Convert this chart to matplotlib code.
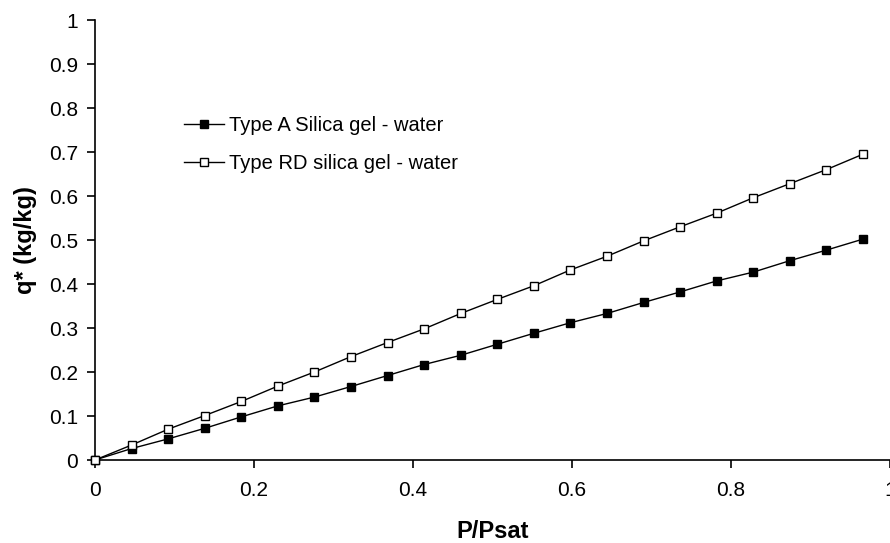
import matplotlib
matplotlib.use("Agg")
import matplotlib.pyplot as plt

plt.rcParams['font.family'] = ['Liberation Sans', 'DejaVu Sans']

# Relative pressure P/Psat
p_ratio = [0.000, 0.046, 0.092, 0.138, 0.184, 0.230, 0.276, 0.322, 0.368, 0.414, 0.460,
           0.506, 0.552, 0.598, 0.644, 0.690, 0.736, 0.782, 0.828, 0.874, 0.920, 0.966]

# Equilibrium uptake q* (kg/kg)
q_type_a = [0.000, 0.026, 0.048, 0.072, 0.098, 0.123, 0.143, 0.167, 0.192, 0.217, 0.238,
            0.263, 0.288, 0.312, 0.333, 0.358, 0.382, 0.407, 0.427, 0.453, 0.477, 0.502]
q_type_rd = [0.000, 0.034, 0.070, 0.101, 0.133, 0.168, 0.200, 0.235, 0.267, 0.298, 0.333,
             0.365, 0.396, 0.432, 0.463, 0.498, 0.530, 0.561, 0.596, 0.628, 0.660, 0.695]

series_labels = ["Type A Silica gel - water", "Type RD silica gel - water"]
x_ticks = [0, 0.2, 0.4, 0.6, 0.8, 1]
y_ticks = [0, 0.1, 0.2, 0.3, 0.4, 0.5, 0.6, 0.7, 0.8, 0.9, 1]

fig = plt.figure(figsize=(8.9, 5.43), dpi=100)
ax = fig.add_axes([95 / 890, 83 / 543, 795 / 890, 440 / 543])

ax.plot(p_ratio, q_type_a, color='black', lw=1.0, marker='s', ms=6,
        mfc='black', mec='black', mew=1.0, label=series_labels[0], clip_on=False, zorder=3)
ax.plot(p_ratio, q_type_rd, color='black', lw=1.0, marker='s', ms=6,
        mfc='white', mec='black', mew=1.0, label=series_labels[1], clip_on=False, zorder=3)

ax.set_xlim(0, 1)
ax.set_ylim(0, 1)
ax.set_xticks(x_ticks)
ax.set_xticklabels(["0", "0.2", "0.4", "0.6", "0.8", "1"])
ax.set_yticks(y_ticks)
ax.set_yticklabels(["0", "0.1", "0.2", "0.3", "0.4", "0.5", "0.6", "0.7", "0.8", "0.9", "1"])

for side in ('top', 'right'):
    ax.spines[side].set_visible(False)
for side in ('left', 'bottom'):
    ax.spines[side].set_linewidth(1.2)
ax.spines['bottom'].set_clip_on(False)

ax.tick_params(axis='both', direction='out', length=6, width=1.2, labelsize=15,
               colors='black')
ax.tick_params(axis='x', pad=9)
ax.tick_params(axis='y', pad=6)

ax.set_xlabel("P/Psat", fontsize=17, fontweight='bold', labelpad=14.5)
ax.set_ylabel("q* (kg/kg)", fontsize=17, fontweight='bold', labelpad=9)

leg = ax.legend(loc='upper left', bbox_to_anchor=(184 / 890, 1 - 116 / 543),
                bbox_transform=fig.transFigure, frameon=False, fontsize=14.5,
                handlelength=2.0, handletextpad=0.25, labelspacing=0.95,
                borderpad=0.0, borderaxespad=0.0)

fig.savefig("out.png", dpi=100)
